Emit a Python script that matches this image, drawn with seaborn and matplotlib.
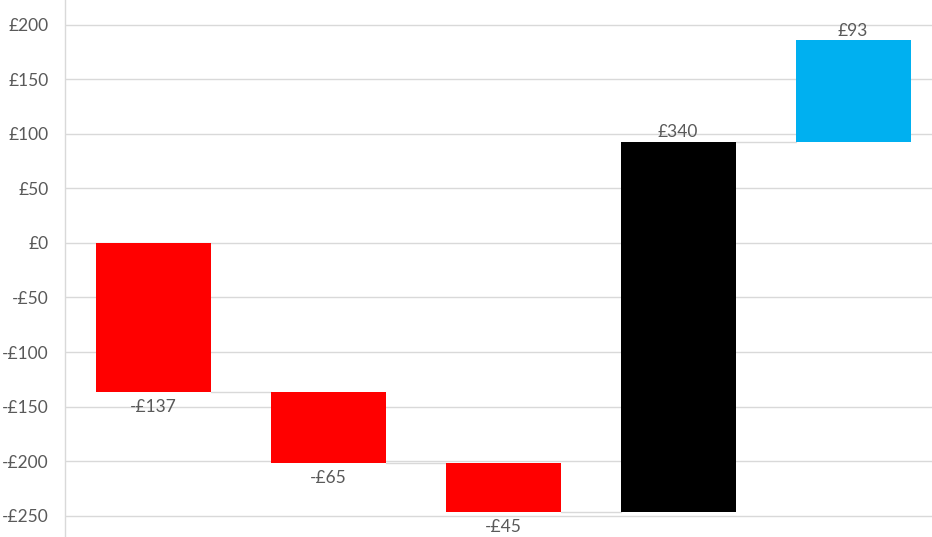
import numpy as np
import pandas as pd
import seaborn as sns
import matplotlib.pyplot as plt

# waterfall steps
categories = ['Step 1', 'Step 2', 'Step 3', 'Total', 'Extra']
changes = [-137, -65, -45, 340, 93]
bar_colors = ['#FF0000', '#FF0000', '#FF0000', '#000000', '#00B0F0']
labels = ['-£137', '-£65', '-£45', '£340', '£93']
y_ticks = [-250, -200, -150, -100, -50, 0, 50, 100, 150, 200]
y_tick_labels = ['-£250', '-£200', '-£150', '-£100', '-£50', '£0', '£50', '£100', '£150', '£200']

# running totals give each bar its bottom
ends = np.cumsum(changes)
starts = ends - np.array(changes)
df = pd.DataFrame({'cat': categories, 'change': changes, 'start': starts, 'end': ends})

sns.set_style('white')
plt.rcParams['font.family'] = ['Lato', 'DejaVu Sans']

fig = plt.figure(figsize=(9.32, 5.37), dpi=100)
ax = fig.add_axes([65 / 932, 0, 1 - 65 / 932, 1])

bar_w = 0.657
sns.barplot(data=df, x='cat', y='change', bottom=df['start'], width=bar_w,
            color='#FF0000', saturation=1, ax=ax, zorder=3)
for patch, c in zip(ax.patches, bar_colors):
    patch.set_facecolor(c)
    patch.set_edgecolor('none')

# connectors between bars
for i in range(len(df) - 1):
    ax.plot([i + bar_w / 2, i + 1 - bar_w / 2], [df['end'][i], df['end'][i]],
            color='#d9d9d9', lw=1, zorder=2)

# value labels
for i, row in df.iterrows():
    if row['change'] < 0:
        ax.text(i, row['end'] - 6, labels[i], ha='center', va='top',
                fontsize=12.5, color='#595959', zorder=4)
    else:
        ax.text(i, row['end'] + 1.5, labels[i], ha='center', va='bottom',
                fontsize=12.5, color='#595959', zorder=4)

ax.set_ylim(-269.7, 222.9)
ax.set_xlim(-0.503, 4.45)
ax.set_yticks(y_ticks)
ax.set_yticklabels(y_tick_labels)
ax.yaxis.grid(True, color='#d9d9d9', lw=1)
ax.set_axisbelow(True)
ax.tick_params(axis='y', length=0, pad=12, labelsize=12.5, labelcolor='#595959')
ax.set_xticks([])
ax.set_xlabel('')
ax.set_ylabel('')
for s in ['top', 'right', 'bottom']:
    ax.spines[s].set_visible(False)
ax.spines['left'].set_color('#d9d9d9')
ax.spines['left'].set_linewidth(1)

plt.savefig('out.png', dpi=100)
